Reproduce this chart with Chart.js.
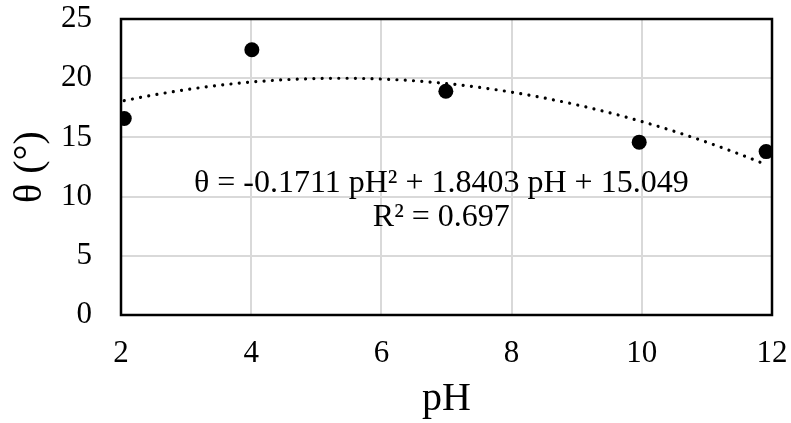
<!DOCTYPE html>
<html>
<head>
<meta charset="utf-8">
<script src="https://cdn.jsdelivr.net/npm/chart.js@4/dist/chart.umd.min.js"></script>
<style>
  html, body { margin: 0; padding: 0; background: #ffffff; }
  #wrap { width: 791px; height: 423px; }
</style>
</head>
<body>
<div id="wrap"><canvas id="c" width="791" height="423"></canvas></div>
<script>
// ---- data ----
const phValues = [2.05, 4.01, 6.99, 9.96, 11.91];
const thetaValues = [16.6, 22.4, 18.9, 14.6, 13.8];
// displayed polynomial trendline: theta = a*pH^2 + b*pH + c
const trendCoefficients = [-0.1711, 1.8403, 15.049];
const xTicks = [2, 4, 6, 8, 10, 12];
const yTicks = [0, 5, 10, 15, 20, 25];
const equationLines = ["θ = -0.1711 pH² + 1.8403 pH + 15.049", "R² = 0.697"];
const xTitle = "pH";
const yTitle = "θ (°)";

const FONT = "'Liberation Serif', 'Times New Roman', serif";

const scatterPts = phValues.map((x, i) => ({ x: x, y: thetaValues[i] }));
const [qa, qb, qc] = trendCoefficients;
const trendPts = [];
const xStart = Math.min(...phValues), xEnd = Math.max(...phValues);
const nSteps = 200;
for (let i = 0; i <= nSteps; i++) {
  const x = xStart + (xEnd - xStart) * i / nSteps;
  trendPts.push({ x: x, y: qa * x * x + qb * x + qc });
}

const frame = {
  id: 'frame',
  beforeDatasetsDraw(chart) {
    const a = chart.chartArea, ctx = chart.ctx;
    ctx.save();
    ctx.strokeStyle = '#000000';
    ctx.lineWidth = 2.5;
    ctx.strokeRect(a.left, a.top, a.right - a.left, a.bottom - a.top);
    ctx.restore();
  }
};

const equation = {
  id: 'equation',
  afterDatasetsDraw(chart) {
    const ctx = chart.ctx, xs = chart.scales.x, ys = chart.scales.y;
    const cx = xs.getPixelForValue(6.92);
    const y1 = ys.getPixelForValue(11.06);
    const y2 = ys.getPixelForValue(8.19);
    ctx.save();
    ctx.fillStyle = '#000000';
    ctx.font = "32px " + FONT;
    ctx.textAlign = 'center';
    ctx.textBaseline = 'middle';
    ctx.fillText(equationLines[0], cx, y1);
    ctx.fillText(equationLines[1], cx, y2);
    ctx.restore();
  }
};

new Chart(document.getElementById('c'), {
  type: 'scatter',
  data: {
    datasets: [
      {
        label: 'trend',
        type: 'line',
        data: trendPts,
        borderColor: '#000000',
        borderWidth: 3.2,
        borderDash: [0.01, 8.3],
        borderCapStyle: 'round',
        pointRadius: 0,
        fill: false,
        tension: 0,
        order: 2
      },
      {
        label: 'theta',
        data: scatterPts,
        backgroundColor: '#000000',
        borderColor: '#000000',
        pointRadius: 7.5,
        pointHoverRadius: 7.5,
        borderWidth: 0,
        order: 1
      }
    ]
  },
  options: {
    responsive: false,
    animation: false,
    devicePixelRatio: 1,
    layout: { padding: 0 },
    plugins: { legend: { display: false }, tooltip: { enabled: false } },
    scales: {
      x: {
        type: 'linear',
        min: 2, max: 12,
        afterBuildTicks(s) { s.ticks = xTicks.map(v => ({ value: v })); },
        afterFit(s) { s.height = 108; s.paddingLeft = 0; s.paddingRight = 19; },
        grid: { color: '#d9d9d9', lineWidth: 2, drawTicks: false },
        border: { display: false },
        ticks: { color: '#000000', padding: 20, font: { family: FONT, size: 31 } },
        title: { display: true, text: xTitle, color: '#000000', padding: { top: 0, bottom: 0 }, font: { family: FONT, size: 40 } }
      },
      y: {
        type: 'linear',
        min: 0, max: 25,
        afterBuildTicks(s) { s.ticks = yTicks.map(v => ({ value: v })); },
        afterFit(s) { s.width = 121; s.paddingTop = 19; s.paddingBottom = 0; },
        grid: { color: '#d9d9d9', lineWidth: 2, drawTicks: false },
        border: { display: false },
        ticks: { color: '#000000', padding: 29, font: { family: FONT, size: 31 } },
        title: { display: true, text: yTitle, color: '#000000', padding: { top: 6, bottom: 0 }, font: { family: FONT, size: 40 } }
      }
    }
  },
  plugins: [frame, equation]
});
</script>
</body>
</html>
